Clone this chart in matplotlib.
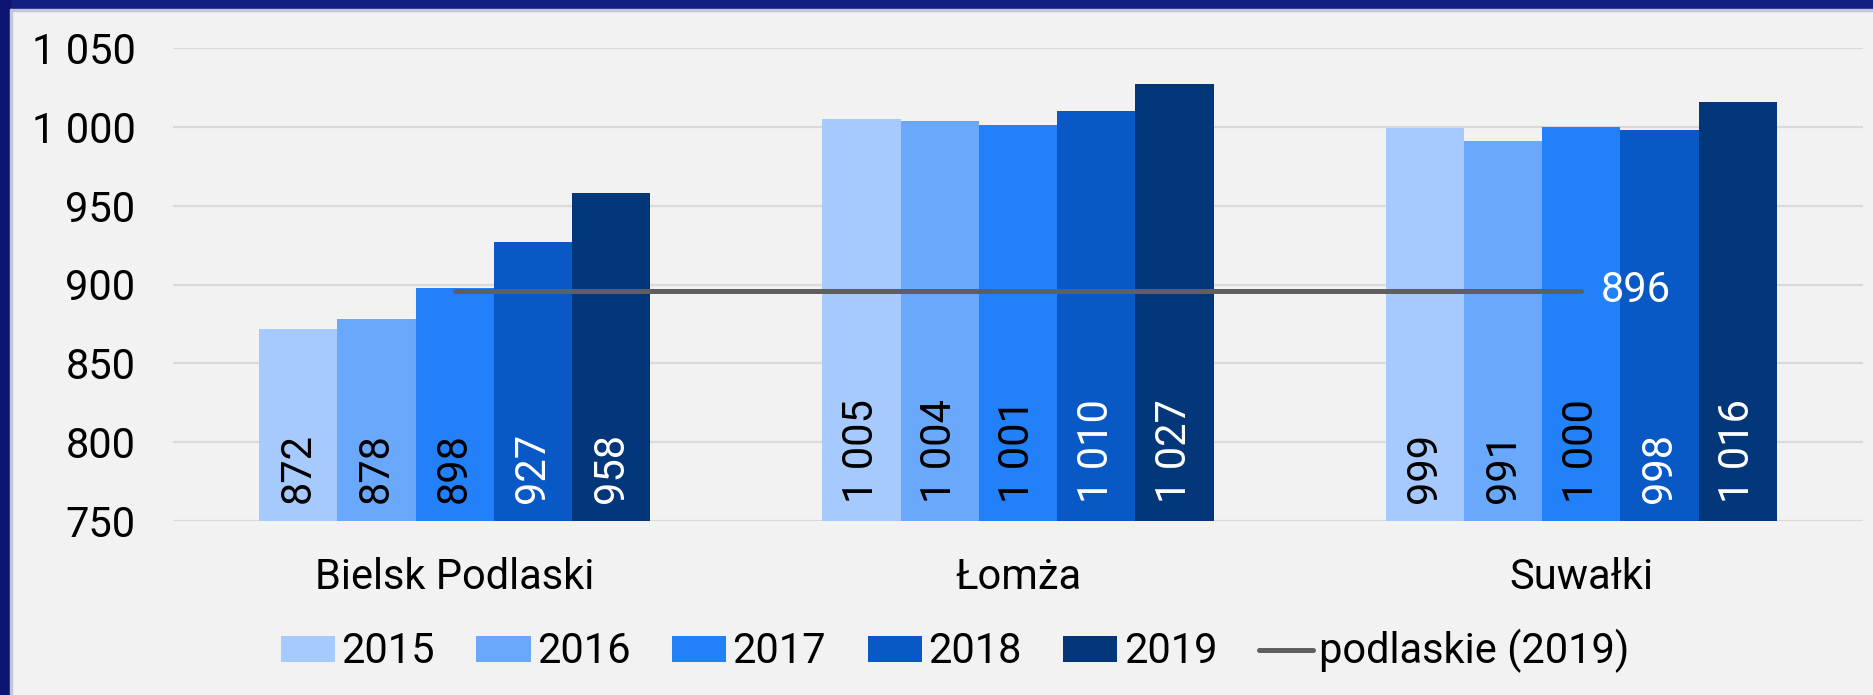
import matplotlib.pyplot as plt
from matplotlib.patches import Rectangle
import numpy as np

categories = ['Bielsk Podlaski', 'Łomża', 'Suwałki']
years = ['2015', '2016', '2017', '2018', '2019']
v2015 = [872, 1005, 999]
v2016 = [878, 1004, 991]
v2017 = [898, 1001, 1000]
v2018 = [927, 1010, 998]
v2019 = [958, 1027, 1016]
podlaskie_2019 = [896, 896, 896]
line_label = 'podlaskie (2019)'
yticks = [750, 800, 850, 900, 950, 1000, 1050]

series = [v2015, v2016, v2017, v2018, v2019]
colors = ['#a6cafe', '#69a8fa', '#2280f8', '#0858c6', '#04367a']
text_colors = ['black', 'black', 'black', 'white', 'white']

plt.rcParams['font.family'] = ['Roboto', 'DejaVu Sans']
FS = 30
W, H = 1873, 695


def fmt(v):
    return f'{v:,}'.replace(',', ' ')


fig = plt.figure(figsize=(W / 100, H / 100), dpi=100)
fig.patch.set_facecolor('#f2f2f2')

# dark frame on top and left
fig.patches.append(Rectangle((0, 1 - 9 / H), 1, 9 / H, transform=fig.transFigure,
                             color='#12207f', zorder=0))
fig.patches.append(Rectangle((10 / W, 1 - 11 / H), 1, 2 / H, transform=fig.transFigure,
                             color='#c3c6d8', zorder=0))
fig.patches.append(Rectangle((0, 0), 10 / W, 1, transform=fig.transFigure,
                             color='#0d1570', zorder=0))
fig.patches.append(Rectangle((10 / W, 0), 2 / W, 1 - 9 / H, transform=fig.transFigure,
                             color='#c3c6d8', zorder=0))

ax = fig.add_axes([173 / W, (H - 521) / H, 1690 / W, 473 / H])
ax.set_facecolor('#f2f2f2')

x = np.arange(len(categories))
bw = 0.139
for i, vals in enumerate(series):
    pos = x + (i - 2) * bw
    ax.bar(pos, np.array(vals) - 750, bw, bottom=750, color=colors[i],
           label=years[i], zorder=2)
    for p, v in zip(pos, vals):
        ax.annotate(fmt(v), (p, 750), xytext=(0, 13), textcoords='offset points',
                    rotation=90, ha='center', va='bottom', fontsize=FS,
                    color=text_colors[i], zorder=4)

ax.plot(x, podlaskie_2019, color='#5f5f5f', lw=3.6, solid_capstyle='round',
        label=line_label, zorder=3)
ax.annotate(fmt(podlaskie_2019[-1]), (x[-1], podlaskie_2019[-1]), xytext=(14, 0),
            textcoords='offset points', ha='left', va='center', fontsize=FS,
            color='white', zorder=4)

ax.set_xlim(-0.5, 2.5)
ax.set_ylim(750, 1050)
ax.set_yticks(yticks)
ax.set_yticklabels([fmt(t) for t in yticks])
ax.set_xticks(x)
ax.set_xticklabels(categories)
ax.tick_params(axis='y', length=0, pad=27, labelsize=FS)
ax.tick_params(axis='x', length=0, pad=26, labelsize=FS)
ax.yaxis.grid(True, color='#d9d9d9', lw=1.6, zorder=0)
ax.set_axisbelow(True)
for s in ax.spines.values():
    s.set_visible(False)

h, l = ax.get_legend_handles_labels()
order = [1, 2, 3, 4, 5, 0]
fig.legend([h[k] for k in order], [l[k] for k in order], loc='center',
           bbox_to_anchor=(0.51, 0.063), ncol=6, frameon=False, fontsize=FS,
           handlelength=1.3, handleheight=0.575, handletextpad=0.15,
           columnspacing=1.0, borderaxespad=0)

fig.savefig('out.png', dpi=100, facecolor=fig.get_facecolor())
